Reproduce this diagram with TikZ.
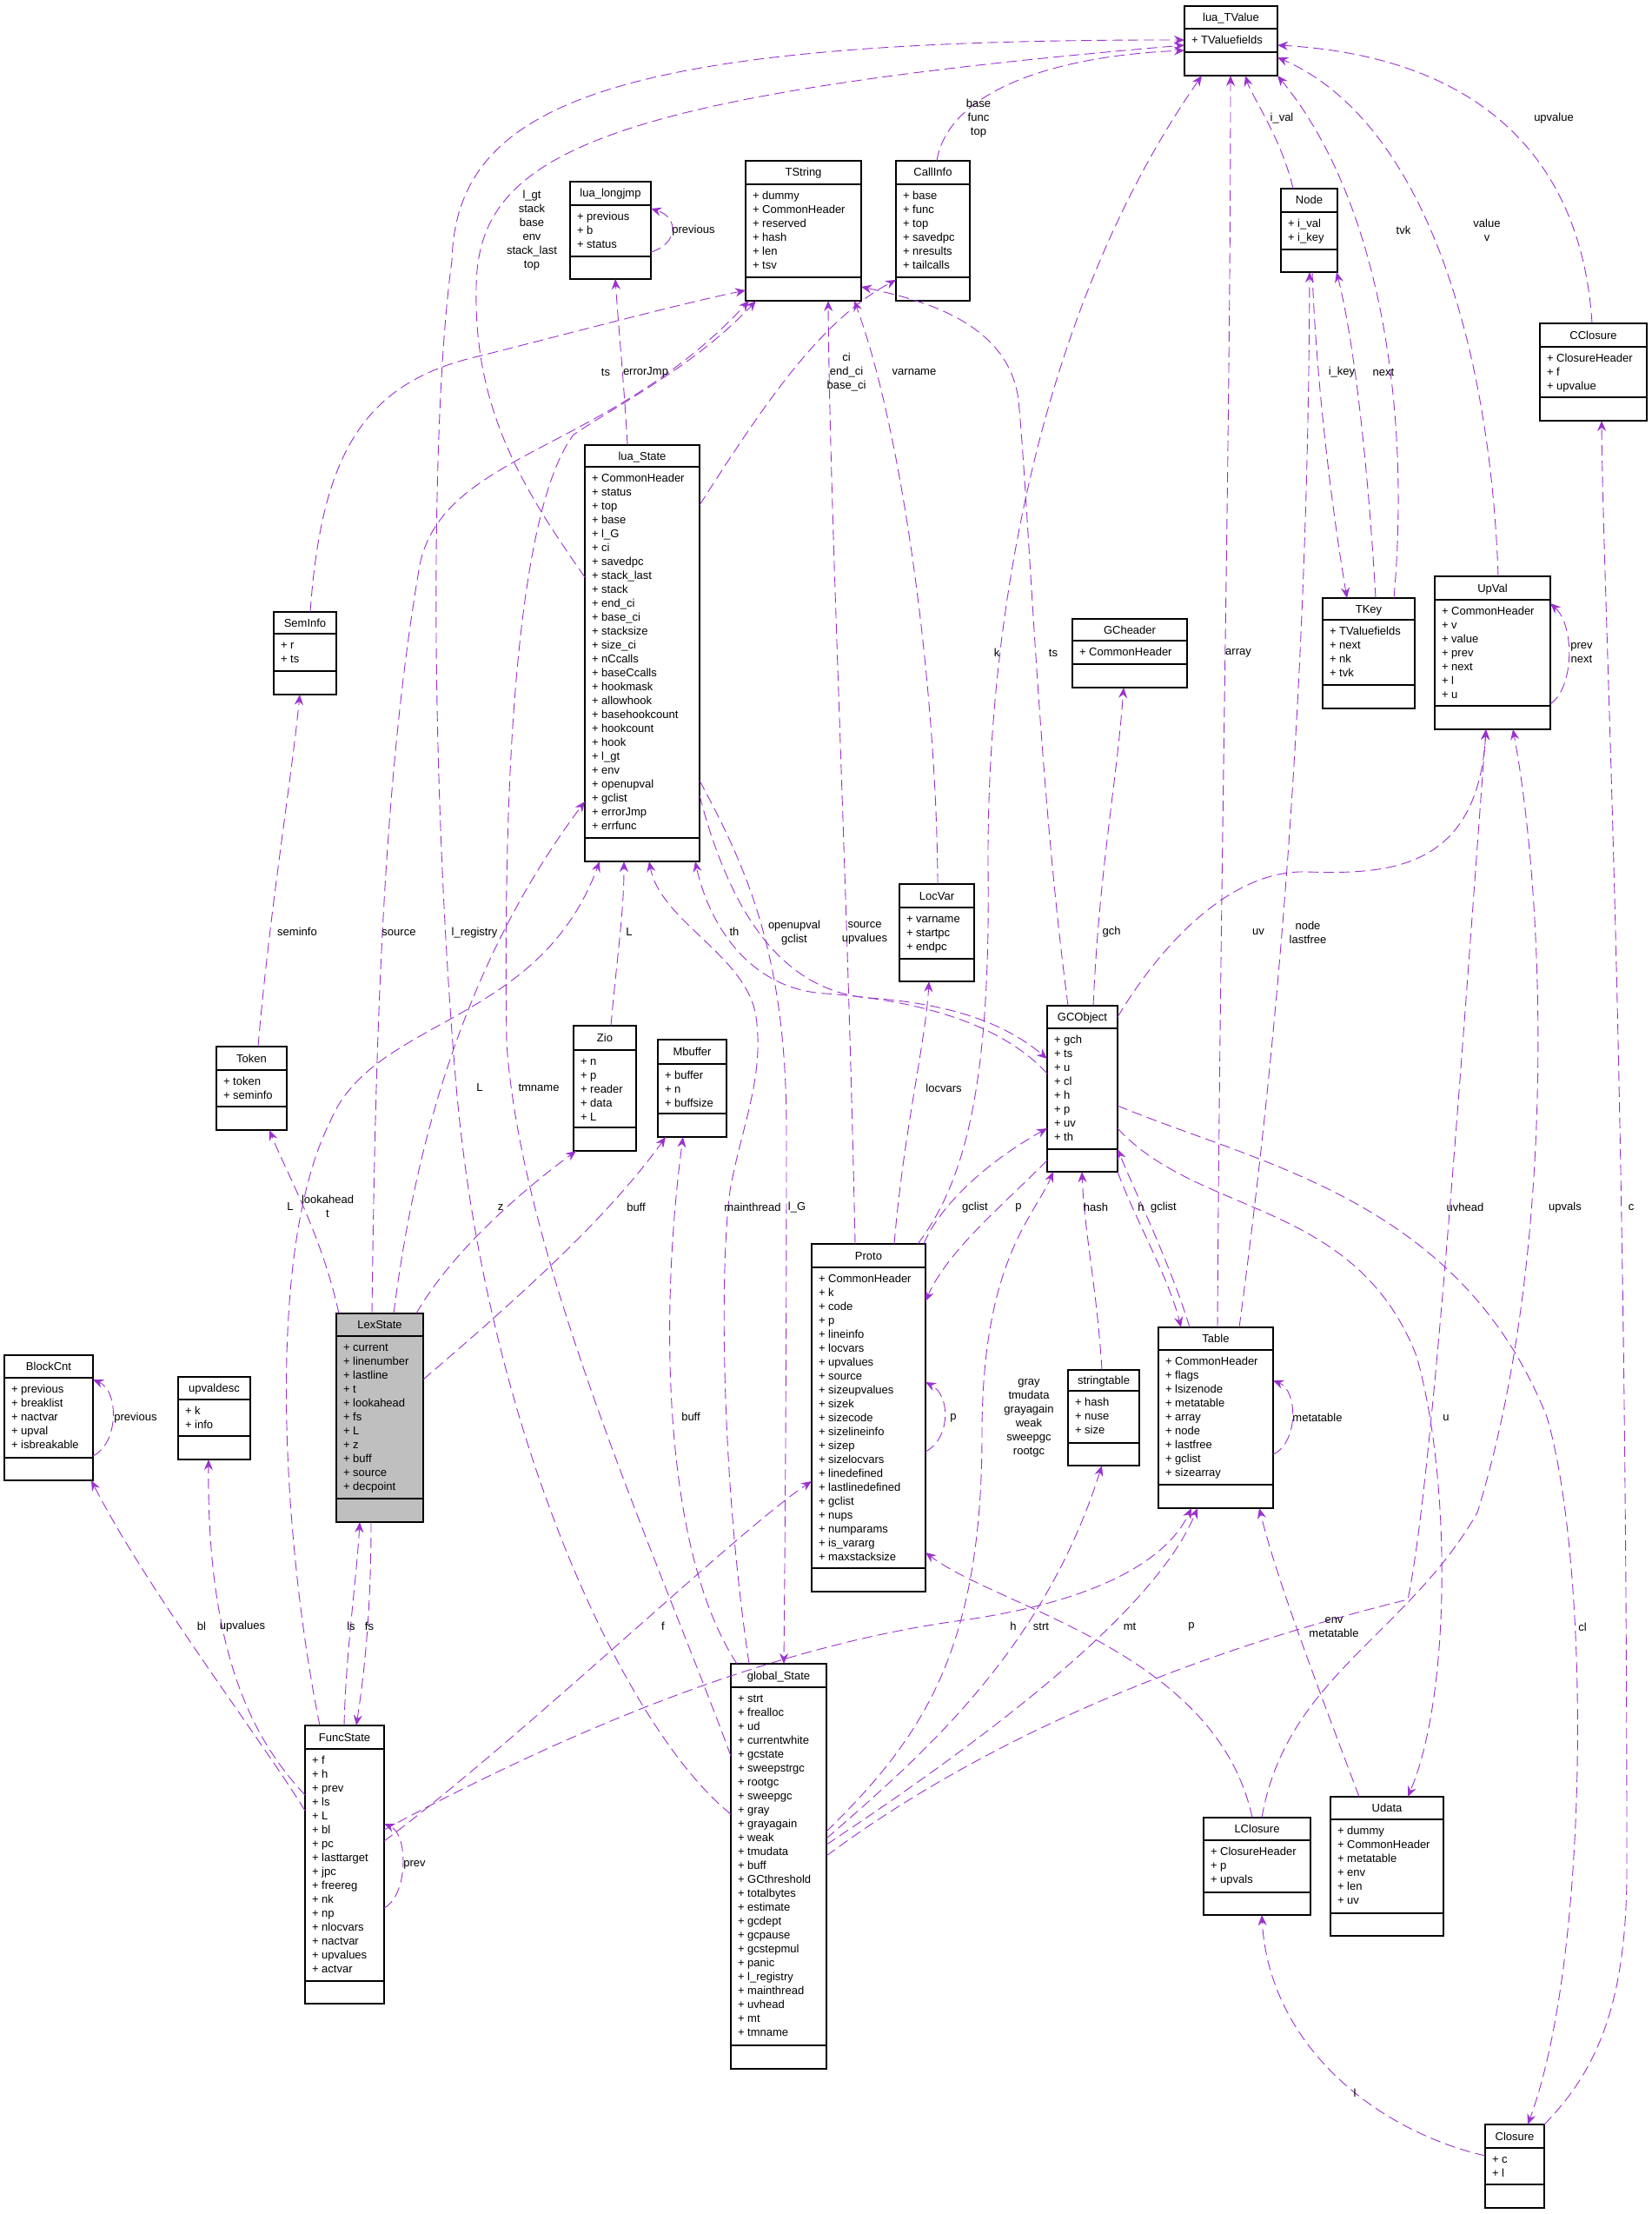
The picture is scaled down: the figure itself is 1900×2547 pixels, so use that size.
\documentclass[tikz,border=0pt]{standalone}
\usepackage{fontspec}
\setmainfont{Liberation Sans}
\usetikzlibrary{arrows.meta}
\definecolor{relpurple}{HTML}{9A32CD}
\definecolor{lexgray}{HTML}{BFBFBF}
\newcommand{\classbox}[9]{%
  \node[box,minimum width={(#4-#2)*1pt},minimum height={(#5-#3)*1pt},anchor=north west] (#1) at (#2,#3) {};
  \draw[line width=1.2pt] (#2,#6) -- (#4,#6) (#2,#7) -- (#4,#7);
  \node[anchor=base] at ({(#2+#4)/2},{(#3+#6)/2+4.5}) {#8};
  \foreach \f [count=\i from 0] in {#9} \node[anchor=base west] at ({#2+8},{#6+17.5+16*\i}) {+ \f};
}
\begin{document}
\begin{tikzpicture}[x=1pt,y=-1pt,every node/.style={font=\fontsize{13}{16}\selectfont,inner sep=0pt,outer sep=0pt},
  box/.style={draw,fill=white,line width=1.2pt},
  rel/.style={draw=relpurple,line width=0.9pt,dash pattern=on 12pt off 6pt,-{Stealth[length=12pt,width=10pt,inset=4pt]}},
  lbl/.style={align=center}]
\useasboundingbox[fill=white] (0,0) rectangle (1900,2547);
\classbox{tvalue}{1363}{7}{1470}{87}{33}{60}{lua\_TValue}{TValuefields}
\classbox{callinfo}{1031}{185}{1116}{346}{212}{319}{CallInfo}{base,func,top,savedpc,nresults,tailcalls}
\classbox{tstring}{858}{185}{991}{346}{212}{319}{TString}{dummy,CommonHeader,reserved,hash,len,tsv}
\classbox{longjmp}{656}{209}{749}{321}{236}{295}{lua\_longjmp}{previous,b,status}
\classbox{tnode}{1474}{217}{1539}{313}{244}{287}{Node}{i\_val,i\_key}
\classbox{cclosure}{1772}{372}{1895}{484}{399}{457}{CClosure}{ClosureHeader,f,upvalue}
\classbox{luastate}{673}{512}{805}{991}{537}{964}{lua\_State}{CommonHeader,status,top,base,l\_G,ci,savedpc,stack\_last,stack,end\_ci,base\_ci,stacksize,size\_ci,nCcalls,baseCcalls,hookmask,allowhook,basehookcount,hookcount,hook,l\_gt,env,openupval,gclist,errorJmp,errfunc}
\classbox{seminfo}{315}{704}{387}{799}{729}{772}{SemInfo}{r,ts}
\classbox{gcheader}{1234}{712}{1366}{791}{737}{764}{GCheader}{CommonHeader}
\classbox{tkey}{1522}{688}{1628}{815}{713}{788}{TKey}{TValuefields,next,nk,tvk}
\classbox{upval}{1651}{663}{1784}{839}{690}{812}{UpVal}{CommonHeader,v,value,prev,next,l,u}
\classbox{locvar}{1035}{1017}{1121}{1129}{1044}{1103}{LocVar}{varname,startpc,endpc}
\classbox{gcobject}{1205}{1157}{1286}{1348}{1183}{1322}{GCObject}{gch,ts,u,cl,h,p,uv,th}
\classbox{token}{249}{1204}{330}{1300}{1231}{1273}{Token}{token,seminfo}
\classbox{zio}{660}{1180}{732}{1324}{1208}{1297}{Zio}{n,p,reader,data,L}
\classbox{mbuffer}{757}{1196}{836}{1308}{1224}{1281}{Mbuffer}{buffer,n,buffsize}
\classbox{proto}{934}{1431}{1065}{1831}{1458}{1804}{Proto}{CommonHeader,k,code,p,lineinfo,locvars,upvalues,source,sizeupvalues,sizek,sizecode,sizelineinfo,sizep,sizelocvars,linedefined,lastlinedefined,gclist,nups,numparams,is\_vararg,maxstacksize}
\begin{scope}[box/.append style={fill=lexgray}]
\classbox{lexstate}{387}{1511}{487}{1751}{1537}{1724}{LexState}{current,linenumber,lastline,t,lookahead,fs,L,z,buff,source,decpoint}
\end{scope}
\classbox{ltable}{1333}{1527}{1465}{1735}{1553}{1708}{Table}{CommonHeader,flags,lsizenode,metatable,array,node,lastfree,gclist,sizearray}
\classbox{stringtable}{1229}{1576}{1311}{1686}{1600}{1660}{stringtable}{hash,nuse,size}
\classbox{blockcnt}{5}{1559}{107}{1703}{1585}{1677}{BlockCnt}{previous,breaklist,nactvar,upval,isbreakable}
\classbox{upvaldesc}{205}{1584}{288}{1679}{1610}{1652}{upvaldesc}{k,info}
\classbox{globalstate}{841}{1914}{951}{2380}{1941}{2353}{global\_State}{strt,frealloc,ud,currentwhite,gcstate,sweepstrgc,rootgc,sweepgc,gray,grayagain,weak,tmudata,buff,GCthreshold,totalbytes,estimate,gcdept,gcpause,gcstepmul,panic,l\_registry,mainthread,uvhead,mt,tmname}
\classbox{funcstate}{351}{1985}{442}{2305}{2012}{2279}{FuncState}{f,h,prev,ls,L,bl,pc,lasttarget,jpc,freereg,nk,np,nlocvars,nactvar,upvalues,actvar}
\classbox{lclosure}{1385}{2091}{1508}{2203}{2117}{2177}{LClosure}{ClosureHeader,p,upvals}
\classbox{udata}{1531}{2067}{1661}{2227}{2093}{2201}{Udata}{dummy,CommonHeader,metatable,env,len,uv}
\classbox{closure}{1709}{2444}{1777}{2540}{2471}{2513}{Closure}{c,l}

\draw[rel] (luastate.west |- 0,664) .. controls (600,560) and (545,470) .. (548,330) .. controls (550,180) and (680,110) .. (tvalue.west |- 0,52);
\draw[rel] (globalstate.west |- 0,2087) .. controls (720,1990) and (560,1650) .. (525,1250) .. controls (495,900) and (495,480) .. (520,300) .. controls (525,120) and (700,45) .. (tvalue.west |- 0,46);
\draw[rel] (callinfo.north -| 1078,0) .. controls (1090,110) and (1200,65) .. (tvalue.west |- 0,58);
\draw[rel] (proto.north -| 1056,0) .. controls (1110,1360) and (1140,1250) .. (1137,1000) .. controls (1135,700) and (1200,350) .. (tvalue.south -| 1383,0);
\draw[rel] (ltable.north -| 1401,0) .. controls (1404,1000) and (1416,500) .. (tvalue.south -| 1416,0);
\draw[rel] (tnode.north -| 1488,0) .. controls (1475,160) and (1440,110) .. (tvalue.south -| 1433,0);
\draw[rel] (tkey.north -| 1604,0) .. controls (1625,450) and (1580,220) .. (tvalue.south east);
\draw[rel] (upval.north -| 1724,0) .. controls (1715,400) and (1640,140) .. (tvalue.east |- 0,66);
\draw[rel] (cclosure.north -| 1832,0) .. controls (1820,180) and (1700,65) .. (tvalue.east |- 0,52);
\draw[rel] (tnode.south -| 1510,0) .. controls (1515,450) and (1535,600) .. (tkey.north -| 1550,0);
\draw[rel] (tkey.north -| 1583,0) .. controls (1575,550) and (1560,400) .. (tnode.south -| 1538,0);
\draw[rel] (ltable.north -| 1426,0) .. controls (1470,1200) and (1505,800) .. (tnode.south -| 1507,0);
\draw[rel] (proto.north -| 984,0) .. controls (975,1000) and (955,600) .. (tstring.south -| 953,0);
\draw[rel] (locvar.north -| 1079,0) .. controls (1078,800) and (1040,500) .. (tstring.south -| 983,0);
\draw[rel] (gcobject.north -| 1229,0) .. controls (1195,900) and (1185,600) .. (1172,460) .. controls (1160,370) and (1060,345) .. (tstring.east |- 0,330);
\draw[rel] (seminfo.north -| 357,0) .. controls (370,520) and (420,440) .. (550,410) .. controls (650,385) and (780,350) .. (tstring.west |- 0,334);
\draw[rel] (lexstate.north -| 428,0) .. controls (432,1200) and (440,900) .. (483,650) .. controls (510,520) and (700,520) .. (tstring.south -| 862,0);
\draw[rel] (globalstate.west |- 0,2020) .. controls (760,1800) and (600,1450) .. (583,1200) .. controls (578,850) and (600,580) .. (660,500) .. controls (720,460) and (800,420) .. (tstring.south -| 870,0);
\draw[rel] (globalstate.north -| 848,0) .. controls (760,1780) and (760,1500) .. (mbuffer.south -| 786,0);
\draw[rel] (globalstate.north -| 862,0) .. controls (830,1700) and (828,1460) .. (840,1370) .. controls (852,1300) and (880,1240) .. (870,1170) .. controls (860,1100) and (760,1060) .. (luastate.south -| 747,0);
\draw[rel] (luastate.east |- 0,898) .. controls (860,1000) and (905,1100) .. (905,1300) .. controls (905,1600) and (903,1800) .. (globalstate.north -| 902,0);
\draw[rel] (luastate.east |- 0,915) .. controls (840,1050) and (900,1140) .. (1000,1148) .. controls (1100,1155) and (1160,1180) .. (gcobject.west |- 0,1218);
\draw[rel] (gcobject.west |- 0,1235) .. controls (1150,1175) and (1050,1150) .. (950,1143) .. controls (860,1138) and (815,1060) .. (luastate.south -| 800,0);
\draw[rel] (zio.north -| 703,0) .. controls (710,1100) and (718,1050) .. (luastate.south -| 718,0);
\draw[rel] (lexstate.north -| 453,0) .. controls (480,1300) and (540,1100) .. (luastate.west |- 0,922);
\draw[rel] (funcstate.north -| 368,0) .. controls (330,1800) and (300,1450) .. (380,1290) .. controls (430,1170) and (620,1180) .. (luastate.south -| 690,0);
\draw[rel] (lexstate.north -| 390,0) .. controls (370,1420) and (330,1350) .. (token.south -| 310,0);
\draw[rel] (token.north -| 297,0) .. controls (310,1050) and (335,900) .. (seminfo.south -| 345,0);
\draw[rel] (luastate.north -| 722,0) .. controls (718,440) and (712,380) .. (longjmp.south -| 708,0);
\draw[rel] (luastate.east |- 0,581) .. controls (870,480) and (940,370) .. (callinfo.west |- 0,322);
\draw[rel] (lexstate.north -| 479,0) .. controls (520,1440) and (600,1370) .. (zio.south -| 663,0);
\draw[rel] (lexstate.east |- 0,1587) .. controls (600,1490) and (700,1400) .. (mbuffer.south -| 766,0);
\draw[rel] (funcstate.north -| 396,0) .. controls (398,1900) and (410,1820) .. (lexstate.south -| 414,0);
\draw[rel] (lexstate.south -| 427,0) .. controls (427,1850) and (420,1920) .. (funcstate.north -| 410,0);
\draw[rel] (funcstate.west |- 0,2083) .. controls (300,2000) and (170,1830) .. (blockcnt.south -| 105,0);
\draw[rel] (funcstate.west |- 0,2065) .. controls (290,2000) and (238,1900) .. (upvaldesc.south -| 240,0);
\draw[rel] (funcstate.east |- 0,2195) .. controls (470,2180) and (470,2110) .. (funcstate.east |- 0,2098);
\draw[rel] (funcstate.east |- 0,2118) .. controls (600,2000) and (850,1760) .. (proto.west |- 0,1704);
\draw[rel] (funcstate.east |- 0,2105) .. controls (600,2020) and (850,1900) .. (1100,1865) .. controls (1250,1845) and (1340,1800) .. (ltable.south -| 1371,0);
\draw[rel] (globalstate.east |- 0,2107) .. controls (1060,2000) and (1130,1900) .. (1130,1650) .. controls (1130,1450) and (1190,1400) .. (gcobject.south -| 1212,0);
\draw[rel] (globalstate.east |- 0,2115) .. controls (1060,2020) and (1200,1900) .. (stringtable.south -| 1268,0);
\draw[rel] (globalstate.east |- 0,2122) .. controls (1150,1990) and (1330,1850) .. (ltable.south -| 1378,0);
\draw[rel] (globalstate.east |- 0,2135) .. controls (1200,1950) and (1500,1870) .. (1620,1840) .. controls (1650,1700) and (1690,1100) .. (upval.south -| 1710,0);
\draw[rel] (lclosure.north -| 1441,0) .. controls (1400,1900) and (1150,1850) .. (proto.east |- 0,1786);
\draw[rel] (lclosure.north -| 1452,0) .. controls (1480,1930) and (1620,1880) .. (1700,1740) .. controls (1790,1450) and (1780,1050) .. (upval.south -| 1741,0);
\draw[rel] (closure.west |- 0,2480) .. controls (1580,2450) and (1460,2350) .. (lclosure.south -| 1452,0);
\draw[rel] (closure.north east) .. controls (1840,2380) and (1872,2300) .. (1872,2150) .. controls (1872,1200) and (1845,700) .. (cclosure.south -| 1843,0);
\draw[rel] (gcobject.east |- 0,1272) .. controls (1450,1340) and (1680,1380) .. (1780,1630) .. controls (1830,1800) and (1830,2250) .. (closure.north -| 1758,0);
\draw[rel] (gcobject.east |- 0,1298) .. controls (1380,1400) and (1560,1380) .. (1630,1560) .. controls (1670,1700) and (1670,1950) .. (udata.north -| 1620,0);
\draw[rel] (udata.north -| 1564,0) .. controls (1520,1950) and (1470,1820) .. (ltable.south -| 1449,0);
\draw[rel] (ltable.east |- 0,1673) .. controls (1494,1660) and (1494,1600) .. (ltable.east |- 0,1588);
\draw[rel] (ltable.north -| 1369,0) .. controls (1345,1450) and (1310,1380) .. (gcobject.east |- 0,1322);
\draw[rel] (gcobject.south east) .. controls (1305,1400) and (1345,1470) .. (ltable.north -| 1359,0);
\draw[rel] (stringtable.north -| 1268,0) .. controls (1262,1480) and (1248,1420) .. (gcobject.south -| 1245,0);
\draw[rel] (gcobject.north -| 1258,0) .. controls (1265,1000) and (1285,900) .. (gcheader.south -| 1293,0);
\draw[rel] (gcobject.east |- 0,1170) .. controls (1340,1080) and (1420,1000) .. (1504,1003) .. controls (1600,1006) and (1700,1000) .. (upval.south -| 1710,0);
\draw[rel] (proto.north -| 1029,0) .. controls (1040,1300) and (1065,1200) .. (locvar.south -| 1069,0);
\draw[rel] (proto.north -| 1063,0) .. controls (1080,1390) and (1130,1340) .. (gcobject.west |- 0,1298);
\draw[rel] (gcobject.west |- 0,1335) .. controls (1150,1390) and (1090,1440) .. (proto.east |- 0,1497);
\draw[rel] (proto.east |- 0,1670) .. controls (1094,1655) and (1094,1605) .. (proto.east |- 0,1590);
\draw[rel] (blockcnt.east |- 0,1675) .. controls (137,1660) and (137,1600) .. (blockcnt.east |- 0,1587);
\draw[rel] (longjmp.east |- 0,290) .. controls (781,280) and (781,250) .. (longjmp.east |- 0,240);
\draw[rel] (upval.east |- 0,810) .. controls (1812,790) and (1812,720) .. (upval.east |- 0,694);

\node[lbl] at (612,265) {l\_gt\\stack\\base\\env\\stack\_last\\top};
\node[lbl] at (798,265) {previous};
\node[lbl] at (1126,136) {base\\func\\top};
\node[lbl] at (1475,136) {i\_val};
\node[lbl] at (1788,136) {upvalue};
\node[lbl] at (1615,265) {tvk};
\node[lbl] at (1711,265) {value\\v};
\node[lbl] at (1544,428) {i\_key};
\node[lbl] at (1592,428) {next};
\node[lbl] at (697,428) {ts};
\node[lbl] at (743,428) {errorJmp};
\node[lbl] at (974,428) {ci\\end\_ci\\base\_ci};
\node[lbl] at (1052,428) {varname};
\node[lbl] at (1147,751) {k};
\node[lbl] at (1212,751) {ts};
\node[lbl] at (1425,751) {array};
\node[lbl] at (1820,751) {prev\\next};
\node[lbl] at (342,1072) {seminfo};
\node[lbl] at (459,1073) {source};
\node[lbl] at (546,1073) {l\_registry};
\node[lbl] at (724,1072) {L};
\node[lbl] at (845,1072) {th};
\node[lbl] at (914,1073) {openupval\\gclist};
\node[lbl] at (995,1073) {source\\upvalues};
\node[lbl] at (1279,1072) {gch};
\node[lbl] at (1448,1072) {uv};
\node[lbl] at (1505,1073) {node\\lastfree};
\node[lbl] at (1086,1252) {locvars};
\node[lbl] at (552,1251) {L};
\node[lbl] at (620,1251) {tmname};
\node[lbl] at (377,1388) {lookahead\\t};
\node[lbl] at (334,1388) {L};
\node[lbl] at (576,1389) {z};
\node[lbl] at (732,1389) {buff};
\node[lbl] at (866,1389) {mainthread};
\node[lbl] at (917,1389) {l\_G};
\node[lbl] at (1122,1389) {gclist};
\node[lbl] at (1172,1389) {p};
\node[lbl] at (1261,1389) {hash};
\node[lbl] at (1313,1389) {h};
\node[lbl] at (1339,1389) {gclist};
\node[lbl] at (1686,1389) {uvhead};
\node[lbl] at (1801,1389) {upvals};
\node[lbl] at (1877,1389) {c};
\node[lbl] at (795,1630) {buff};
\node[lbl] at (1184,1631) {gray\\tmudata\\grayagain\\weak\\sweepgc\\rootgc};
\node[lbl] at (1097,1631) {p};
\node[lbl] at (1516,1631) {metatable};
\node[lbl] at (1664,1631) {u};
\node[lbl] at (156,1631) {previous};
\node[lbl] at (232,1871) {bl};
\node[lbl] at (279,1871) {upvalues};
\node[lbl] at (404,1871) {ls};
\node[lbl] at (425,1871) {fs};
\node[lbl] at (763,1871) {f};
\node[lbl] at (1166,1871) {h};
\node[lbl] at (1198,1871) {strt};
\node[lbl] at (1300,1871) {mt};
\node[lbl] at (1371,1871) {p};
\node[lbl] at (1535,1872) {env\\metatable};
\node[lbl] at (1821,1872) {cl};
\node[lbl] at (1559,2408) {l};
\node[lbl] at (477,2145) {prev};
\end{tikzpicture}
\end{document}
